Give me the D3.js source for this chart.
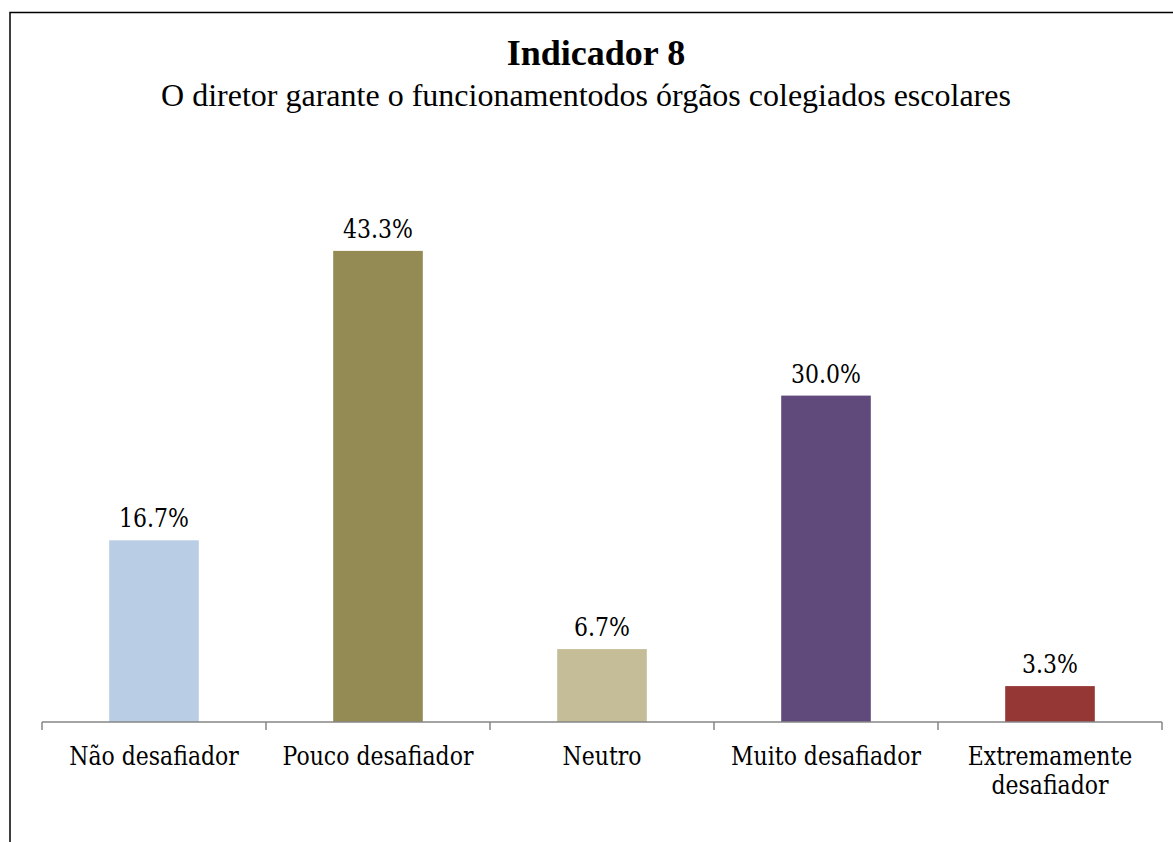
<!DOCTYPE html>
<html>
<head>
<meta charset="utf-8">
<script src="https://cdn.jsdelivr.net/npm/d3@7"></script>
<style>
  body { margin: 0; background: #fff; }
  svg { display: block; }
</style>
</head>
<body>
<svg id="chart"></svg>
<script>
const categories = ["Não desafiador", "Pouco desafiador", "Neutro", "Muito desafiador", "Extremamente desafiador"];
const values = [16.7, 43.3, 6.7, 30.0, 3.3];
const colors = ["#B9CDE5", "#948A54", "#C4BD97", "#604A7B", "#953735"];
const title = "Indicador 8";
const subtitle = "O diretor garante o funcionamentodos órgãos colegiados escolares";

const width = 1173;
const height = 842;
const margin = {top: 178, right: 11, bottom: 120, left: 42};
const labelFont = "'DejaVu Serif', serif";
const titleFont = "'Liberation Serif', 'Times New Roman', serif";
const stretch = 1.2; // labels in the picture are a bit taller than wide

const svg = d3.select("#chart")
    .attr("width", width)
    .attr("height", height);

// outer frame (only left and top edges fall inside the picture)
svg.append("path")
    .attr("d", `M10,${height} V12.5 H${width}`)
    .attr("fill", "none")
    .attr("stroke", "#000")
    .attr("stroke-width", 1.5);

const x = d3.scaleBand()
    .domain(categories)
    .range([margin.left, width - margin.right])
    .paddingInner(0)
    .paddingOuter(0);

const y = d3.scaleLinear()
    .domain([0, 50])
    .range([height - margin.bottom, margin.top]);

const barW = x.bandwidth() * 0.4;

svg.append("g")
    .selectAll("rect")
    .data(values)
    .join("rect")
    .attr("x", (d, i) => x(categories[i]) + (x.bandwidth() - barW) / 2)
    .attr("y", d => y(d))
    .attr("width", barW)
    .attr("height", d => y(0) - y(d))
    .attr("fill", (d, i) => colors[i]);

// value labels
svg.append("g")
    .selectAll("text")
    .data(values)
    .join("text")
    .attr("transform", (d, i) =>
        `translate(${x(categories[i]) + x.bandwidth() / 2},${y(d) - 13}) scale(1,${stretch})`)
    .attr("text-anchor", "middle")
    .style("font-family", labelFont)
    .style("font-size", "22px")
    .style("fill", "#000")
    .text(d => d.toFixed(1) + "%");

// x axis
const axis = svg.append("g")
    .attr("transform", `translate(0,${y(0)})`);
axis.append("line")
    .attr("x1", margin.left)
    .attr("x2", width - margin.right)
    .attr("stroke", "#868686")
    .attr("stroke-width", 1.5);
const tickPos = categories.map(c => x(c)).concat([width - margin.right]);
axis.selectAll(".tick")
    .data(tickPos)
    .join("line")
    .attr("class", "tick")
    .attr("x1", d => d)
    .attr("x2", d => d)
    .attr("y1", 0)
    .attr("y2", 8)
    .attr("stroke", "#868686")
    .attr("stroke-width", 1.5);

const catLines = {
    "Extremamente desafiador": ["Extremamente", "desafiador"]
};
axis.selectAll(".cat")
    .data(categories)
    .join("text")
    .attr("class", "cat")
    .attr("transform", d => `translate(${x(d) + x.bandwidth() / 2},42.5) scale(1,${stretch})`)
    .attr("text-anchor", "middle")
    .style("font-family", labelFont)
    .style("font-size", "22px")
    .style("fill", "#000")
    .each(function (d) {
        const lines = catLines[d] || [d];
        d3.select(this).selectAll("tspan")
            .data(lines)
            .join("tspan")
            .attr("x", 0)
            .attr("dy", (l, i) => i === 0 ? 0 : 30 / stretch)
            .text(l => l);
    });

// titles
svg.append("text")
    .attr("x", 596)
    .attr("y", 65)
    .attr("text-anchor", "middle")
    .style("font-family", titleFont)
    .style("font-weight", "bold")
    .style("font-size", "36px")
    .text(title);

svg.append("text")
    .attr("x", 586)
    .attr("y", 106)
    .attr("text-anchor", "middle")
    .style("font-family", titleFont)
    .style("font-size", "32px")
    .text(subtitle);
</script>
</body>
</html>
